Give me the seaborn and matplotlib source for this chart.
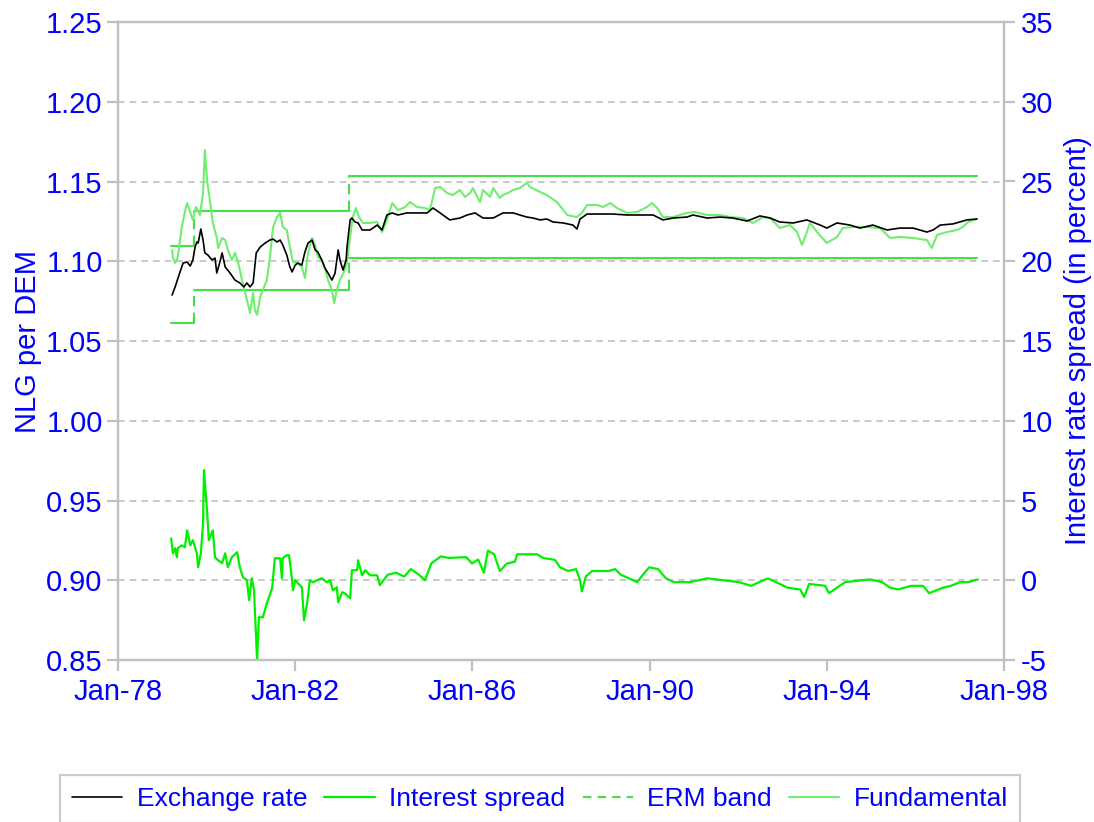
import numpy as np
import pandas as pd
import matplotlib
matplotlib.use("Agg")
import matplotlib.pyplot as plt
from matplotlib.lines import Line2D
import seaborn as sns

# ---------------- data ----------------
fx_t = [1979.22, 1979.29, 1979.40, 1979.47, 1979.56, 1979.63, 1979.69, 1979.74, 1979.78, 1979.81,
        1979.87, 1979.92, 1979.96, 1980.03, 1980.12, 1980.19, 1980.23, 1980.30, 1980.35, 1980.42,
        1980.53, 1980.64, 1980.75, 1980.84, 1980.91, 1980.98, 1981.05, 1981.12, 1981.21, 1981.32,
        1981.43, 1981.50, 1981.59, 1981.66, 1981.72, 1981.81, 1981.88, 1981.93, 1982.00, 1982.06,
        1982.15, 1982.22, 1982.29, 1982.38, 1982.45, 1982.51, 1982.60, 1982.67, 1982.74, 1982.83,
        1982.90, 1982.97, 1983.01, 1983.08, 1983.15, 1983.17, 1983.24, 1983.28, 1983.35, 1983.42,
        1983.51, 1983.69, 1983.85, 1983.96, 1984.07, 1984.19, 1984.32, 1984.52, 1984.75, 1984.98,
        1985.11, 1985.27, 1985.49, 1985.72, 1985.88, 1986.06, 1986.24, 1986.47, 1986.69, 1986.92,
        1987.07, 1987.23, 1987.37, 1987.53, 1987.68, 1987.82, 1988.05, 1988.27, 1988.36, 1988.43,
        1988.59, 1988.88, 1989.17, 1989.49, 1989.78, 1990.08, 1990.30, 1990.53, 1990.84, 1990.98,
        1991.30, 1991.59, 1991.88, 1992.20, 1992.49, 1992.72, 1992.94, 1993.24, 1993.55, 1993.85,
        1994.00, 1994.23, 1994.52, 1994.75, 1995.04, 1995.36, 1995.65, 1995.95, 1996.26, 1996.40,
        1996.56, 1996.85, 1997.16, 1997.39]
fx_v = [1.0788, 1.0839, 1.0933, 1.0989, 1.0995, 1.0970, 1.1008, 1.1089, 1.1121, 1.1114,
        1.1202, 1.1133, 1.1052, 1.1039, 1.1008, 1.1020, 1.0926, 1.0995, 1.1052, 1.0964,
        1.0926, 1.0882, 1.0864, 1.0839, 1.0864, 1.0839, 1.0864, 1.1052, 1.1089, 1.1114,
        1.1133, 1.1139, 1.1121, 1.1133, 1.1102, 1.1039, 1.0964, 1.0933, 1.0976, 1.0989,
        1.0976, 1.1058, 1.1114, 1.1133, 1.1071, 1.1058, 1.1008, 1.0958, 1.0926, 1.0882,
        1.0926, 1.1071, 1.1008, 1.0945, 1.1008, 1.1089, 1.1259, 1.1271, 1.1246, 1.1240,
        1.1196, 1.1196, 1.1227, 1.1196, 1.1290, 1.1303, 1.1290, 1.1303, 1.1303, 1.1303,
        1.1334, 1.1303, 1.1259, 1.1271, 1.1290, 1.1303, 1.1271, 1.1271, 1.1303, 1.1303,
        1.1290, 1.1277, 1.1271, 1.1259, 1.1265, 1.1246, 1.1240, 1.1227, 1.1202, 1.1265,
        1.1296, 1.1296, 1.1296, 1.1290, 1.1290, 1.1290, 1.1259, 1.1271, 1.1277, 1.1290,
        1.1271, 1.1277, 1.1271, 1.1252, 1.1284, 1.1271, 1.1246, 1.1240, 1.1259, 1.1227,
        1.1208, 1.1240, 1.1227, 1.1208, 1.1227, 1.1196, 1.1208, 1.1208, 1.1183, 1.1196,
        1.1227, 1.1234, 1.1259, 1.1265]

fund_t = [1979.22, 1979.24, 1979.29, 1979.35, 1979.44, 1979.51, 1979.56, 1979.63, 1979.69, 1979.76,
          1979.81, 1979.85, 1979.92, 1979.96, 1980.01, 1980.08, 1980.14, 1980.23, 1980.26, 1980.35,
          1980.42, 1980.48, 1980.57, 1980.64, 1980.71, 1980.80, 1980.87, 1980.93, 1980.98, 1981.05,
          1981.09, 1981.14, 1981.21, 1981.27, 1981.36, 1981.43, 1981.50, 1981.59, 1981.66, 1981.72,
          1981.81, 1981.88, 1981.95, 1982.04, 1982.15, 1982.22, 1982.29, 1982.38, 1982.45, 1982.51,
          1982.60, 1982.67, 1982.74, 1982.83, 1982.88, 1982.94, 1983.01, 1983.12, 1983.17, 1983.21,
          1983.30, 1983.37, 1983.44, 1983.53, 1983.69, 1983.85, 1983.96, 1984.07, 1984.19, 1984.32,
          1984.48, 1984.59, 1984.75, 1984.93, 1985.04, 1985.16, 1985.27, 1985.43, 1985.56, 1985.72,
          1985.83, 1985.95, 1986.01, 1986.17, 1986.24, 1986.40, 1986.47, 1986.62, 1986.69, 1986.80,
          1986.92, 1987.07, 1987.23, 1987.30, 1987.53, 1987.68, 1987.91, 1988.14, 1988.36, 1988.47,
          1988.59, 1988.81, 1988.95, 1989.11, 1989.26, 1989.49, 1989.72, 1989.94, 1990.05, 1990.17,
          1990.30, 1990.53, 1990.84, 1991.02, 1991.30, 1991.59, 1991.82, 1992.11, 1992.33, 1992.56,
          1992.72, 1992.94, 1993.17, 1993.33, 1993.44, 1993.55, 1993.62, 1993.78, 1994.00, 1994.23,
          1994.36, 1994.59, 1994.91, 1995.20, 1995.43, 1995.65, 1995.95, 1996.26, 1996.37, 1996.49,
          1996.71, 1996.94, 1997.07, 1997.19, 1997.39]
fund_v = [1.1071, 1.1020, 1.0989, 1.1027, 1.1215, 1.1309, 1.1365, 1.1309, 1.1259, 1.1340,
          1.1309, 1.1290, 1.1428, 1.1697, 1.1509, 1.1371, 1.1240, 1.1146, 1.1083, 1.1146,
          1.1133, 1.1071, 1.1008, 1.1052, 1.0995, 1.0882, 1.0801, 1.0738, 1.0676, 1.0801,
          1.0694, 1.0663, 1.0776, 1.0820, 1.0882, 1.1027, 1.1215, 1.1277, 1.1303, 1.1215,
          1.1196, 1.1089, 1.0995, 1.0989, 1.0964, 1.0895, 1.1052, 1.1146, 1.1102, 1.1027,
          1.1008, 1.0958, 1.0882, 1.0820, 1.0738, 1.0820, 1.0882, 1.0945, 1.0989, 1.1089,
          1.1277, 1.1334, 1.1277, 1.1240, 1.1240, 1.1246, 1.1183, 1.1259, 1.1365, 1.1321,
          1.1340, 1.1371, 1.1340, 1.1334, 1.1321, 1.1459, 1.1466, 1.1428, 1.1415, 1.1447,
          1.1403, 1.1428, 1.1459, 1.1371, 1.1447, 1.1403, 1.1459, 1.1397, 1.1415, 1.1428,
          1.1447, 1.1459, 1.1491, 1.1466, 1.1434, 1.1415, 1.1371, 1.1290, 1.1277, 1.1303,
          1.1353, 1.1353, 1.1340, 1.1365, 1.1334, 1.1303, 1.1309, 1.1340, 1.1365, 1.1334,
          1.1277, 1.1277, 1.1303, 1.1309, 1.1290, 1.1290, 1.1277, 1.1271, 1.1240, 1.1277,
          1.1271, 1.1208, 1.1227, 1.1183, 1.1102, 1.1183, 1.1240, 1.1183, 1.1114, 1.1152,
          1.1208, 1.1215, 1.1215, 1.1208, 1.1146, 1.1152, 1.1146, 1.1133, 1.1083, 1.1165,
          1.1183, 1.1196, 1.1215, 1.1246, 1.1265]

spread_t = [1979.20, 1979.24, 1979.29, 1979.33, 1979.35, 1979.44, 1979.51, 1979.56, 1979.63, 1979.69,
            1979.78, 1979.81, 1979.87, 1979.92, 1979.94, 1980.01, 1980.05, 1980.14, 1980.19, 1980.26,
            1980.35, 1980.42, 1980.48, 1980.57, 1980.69, 1980.75, 1980.82, 1980.91, 1980.96, 1981.02,
            1981.07, 1981.14, 1981.18, 1981.27, 1981.36, 1981.48, 1981.54, 1981.66, 1981.70, 1981.72,
            1981.81, 1981.86, 1981.91, 1981.95, 1982.00, 1982.06, 1982.15, 1982.20, 1982.27, 1982.33,
            1982.40, 1982.49, 1982.60, 1982.72, 1982.79, 1982.85, 1982.94, 1982.97, 1983.06, 1983.12,
            1983.24, 1983.28, 1983.40, 1983.42, 1983.51, 1983.58, 1983.69, 1983.85, 1983.91, 1984.09,
            1984.28, 1984.46, 1984.61, 1984.79, 1984.93, 1985.07, 1985.29, 1985.47, 1985.86, 1985.99,
            1986.13, 1986.26, 1986.35, 1986.49, 1986.62, 1986.78, 1986.96, 1987.01, 1987.23, 1987.46,
            1987.59, 1987.86, 1987.98, 1988.16, 1988.34, 1988.43, 1988.47, 1988.56, 1988.70, 1988.88,
            1989.08, 1989.22, 1989.35, 1989.53, 1989.72, 1989.85, 1989.99, 1990.19, 1990.37, 1990.55,
            1990.91, 1991.30, 1991.66, 1992.02, 1992.29, 1992.67, 1992.94, 1993.12, 1993.40, 1993.49,
            1993.60, 1993.96, 1994.05, 1994.41, 1994.79, 1994.98, 1995.25, 1995.43, 1995.61, 1995.90,
            1996.17, 1996.31, 1996.62, 1996.80, 1997.01, 1997.19, 1997.41]
spread_v = [2.63, 1.69, 2.01, 1.44, 2.01, 2.19, 2.07, 3.13, 2.19, 2.51,
            1.69, 0.82, 1.69, 3.57, 6.90, 4.39, 2.51, 3.13, 1.44, 1.25,
            1.07, 1.69, 0.82, 1.44, 1.76, 0.82, 0.19, 0.00, -1.25, 0.13,
            -0.63, -5.02, -2.32, -2.32, -1.44, -0.50, 1.38, 1.38, 0.13, 1.38,
            1.57, 1.57, 0.50, -0.63, 0.00, -0.19, -0.44, -2.51, -1.44, 0.00,
            -0.13, 0.00, 0.13, -0.13, 0.00, -0.63, -0.44, -1.38, -0.75, -0.82,
            -1.13, 0.63, 0.63, 1.25, 0.31, 0.63, 0.31, 0.31, -0.31, 0.35,
            0.47, 0.23, 0.70, 0.35, 0.00, 1.05, 1.50, 1.40, 1.45, 1.05,
            1.30, 0.47, 1.86, 1.63, 0.58, 1.05, 1.16, 1.63, 1.63, 1.63,
            1.40, 1.28, 0.81, 0.58, 0.70, 0.00, -0.70, 0.23, 0.58, 0.58,
            0.58, 0.70, 0.35, 0.12, -0.12, 0.35, 0.81, 0.70, 0.12, -0.12,
            -0.12, 0.12, 0.00, -0.12, -0.35, 0.12, -0.23, -0.47, -0.58, -1.05,
            -0.23, -0.35, -0.81, -0.12, 0.00, 0.05, -0.12, -0.47, -0.58, -0.35,
            -0.35, -0.81, -0.47, -0.35, -0.12, -0.12, 0.05]

# ERM band regimes: start/end dates and band limits
band_start = [1979.20, 1979.72, 1983.21]
band_end = [1979.72, 1983.21, 1997.39]
band_upper = [1.1096, 1.1315, 1.1537]
band_lower = [1.0613, 1.0818, 1.1020]

xtick_years = [1978, 1982, 1986, 1990, 1994, 1998]
xtick_labels = ["Jan-78", "Jan-82", "Jan-86", "Jan-90", "Jan-94", "Jan-98"]
left_ticks = [0.85, 0.90, 0.95, 1.00, 1.05, 1.10, 1.15, 1.20, 1.25]
right_ticks = [-5, 0, 5, 10, 15, 20, 25, 30, 35]
legend_labels = ["Exchange rate", "Interest spread", "ERM band", "Fundamental"]

# ---------------- style ----------------
sns.set_theme(style="white")
plt.rcParams["font.family"] = ["Liberation Sans", "DejaVu Sans"]

C_FX = "#000000"
C_SPREAD = "#00F000"
C_BAND = "#44E044"
C_FUND = "#70EE70"
C_TEXT = "#0000FF"
C_GRID = "#C0C0C0"
FS = 21

fig = plt.figure(figsize=(10.94, 8.22), dpi=100)
ax = fig.add_axes([118 / 1094, 1 - 660 / 822, (1004 - 118) / 1094, (660 - 22) / 822])
ax2 = ax.twinx()

# ERM band: solid horizontal levels, dashed jumps
for s, e, u, l in zip(band_start, band_end, band_upper, band_lower):
    sns.lineplot(x=[s, e], y=[u, u], ax=ax, color=C_BAND, lw=1.5, estimator=None)
    sns.lineplot(x=[s, e], y=[l, l], ax=ax, color=C_BAND, lw=1.5, estimator=None)
for i in range(1, len(band_start)):
    ax.vlines(band_start[i], band_upper[i - 1], band_upper[i], color=C_BAND, lw=1.5,
              linestyles=(0, (5, 3)))
    ax.vlines(band_start[i], band_lower[i - 1], band_lower[i], color=C_BAND, lw=1.5,
              linestyles=(0, (5, 3)))

sns.lineplot(x=fund_t, y=fund_v, ax=ax, color=C_FUND, lw=1.5, estimator=None)
sns.lineplot(x=fx_t, y=fx_v, ax=ax, color=C_FX, lw=1.2, estimator=None)
sns.lineplot(x=spread_t, y=spread_v, ax=ax2, color=C_SPREAD, lw=1.6, estimator=None)

# axes limits/ticks
ax.set_xlim(1978, 1998)
ax.set_ylim(0.85, 1.25)
ax2.set_ylim(-5, 35)
ax.set_xticks(xtick_years)
ax.set_xticklabels(xtick_labels)
ax.set_yticks(left_ticks)
ax.set_yticklabels([f"{v:.2f}" for v in left_ticks])
ax2.set_yticks(right_ticks)
ax2.set_yticklabels([str(v) for v in right_ticks])

for a in (ax, ax2):
    for sp in a.spines.values():
        sp.set_visible(True)
        sp.set_color(C_GRID)
        sp.set_linewidth(1.6)
    a.tick_params(colors=C_GRID, labelcolor=C_TEXT, labelsize=FS, length=8, width=1.6,
                  direction="out")
ax.tick_params(axis="y", left=True, right=False, pad=3)
ax.tick_params(axis="x", bottom=True, pad=5)
ax2.tick_params(axis="y", right=True, left=False, pad=4)

ax.grid(False)
ax2.grid(False)
for v in left_ticks[1:-1]:
    ax.axhline(v, color=C_GRID, lw=1.2, ls=(0, (4, 3)), zorder=0)

ax.set_xlabel("")
ax.set_ylabel("NLG per DEM", color=C_TEXT, fontsize=FS, labelpad=3)
ax2.set_ylabel("Interest rate spread (in percent)", color=C_TEXT, fontsize=FS, labelpad=8)

handles = [
    Line2D([], [], color=C_FX, lw=1.2),
    Line2D([], [], color=C_SPREAD, lw=1.6),
    Line2D([], [], color=C_BAND, lw=1.5, ls=(0, (4, 3))),
    Line2D([], [], color=C_FUND, lw=1.5),
]
leg = fig.legend(handles, legend_labels, loc="upper left",
                 bbox_to_anchor=(60 / 1094, 1 - 775 / 822, 960 / 1094, 0),
                 mode="expand", ncol=4, fontsize=19, frameon=True, fancybox=False,
                 handlelength=1.9, handletextpad=0.55, columnspacing=0.4,
                 borderpad=0.45, borderaxespad=0)
leg.get_frame().set_edgecolor(C_GRID)
leg.get_frame().set_linewidth(1.6)
for t in leg.get_texts():
    t.set_color(C_TEXT)

fig.savefig("out.png", dpi=100)
